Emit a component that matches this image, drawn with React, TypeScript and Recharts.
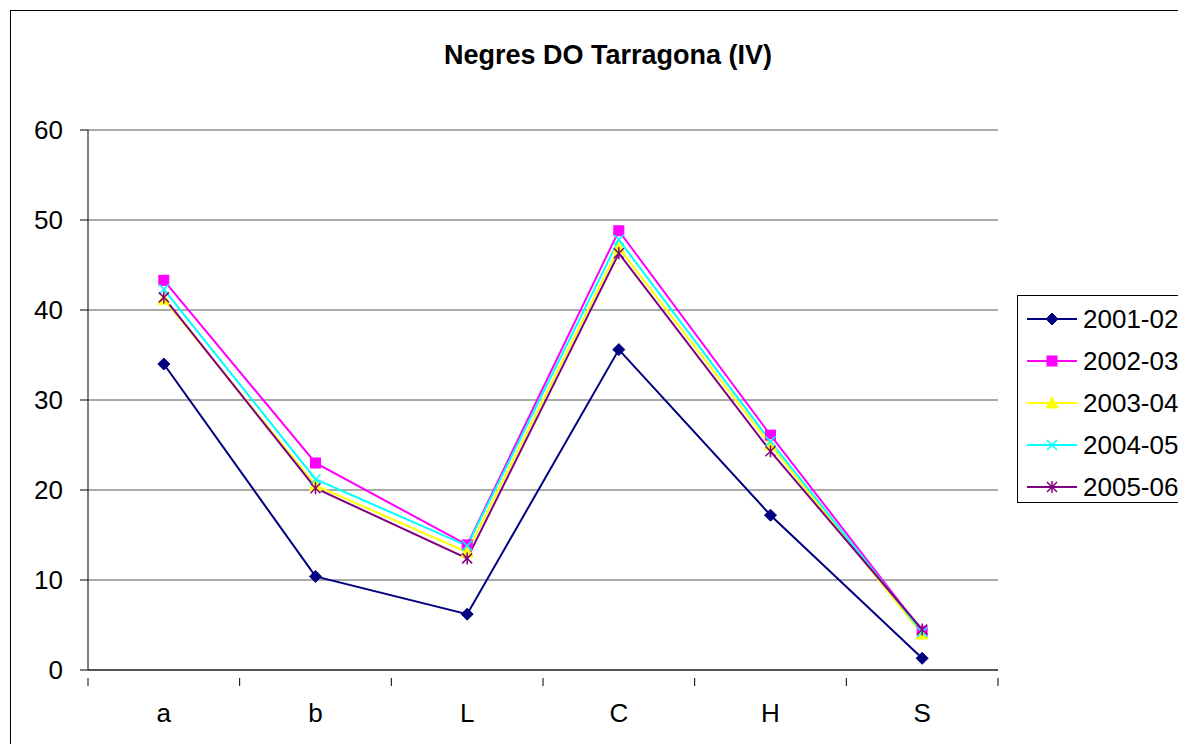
import React from 'react';
import { LineChart, Line, XAxis, YAxis, CartesianGrid } from 'recharts';

const categories = ['a', 'b', 'L', 'C', 'H', 'S'];
const yTicks = [0, 10, 20, 30, 40, 50, 60];

const s2001 = [34.0, 10.4, 6.2, 35.6, 17.2, 1.3];
const s2002 = [43.3, 23.0, 13.9, 48.8, 26.1, 4.3];
const s2003 = [41.2, 20.5, 13.1, 46.9, 25.0, 4.0];
const s2004 = [42.3, 21.2, 13.8, 47.8, 25.4, 4.2];
const s2005 = [41.4, 20.2, 12.4, 46.3, 24.3, 4.5];

const seriesList = [
  { key: 's2001', name: '2001-02', color: '#000080', marker: 'diamond', values: s2001 },
  { key: 's2002', name: '2002-03', color: '#FF00FF', marker: 'square', values: s2002 },
  { key: 's2003', name: '2003-04', color: '#FFFF00', marker: 'triangle', values: s2003 },
  { key: 's2004', name: '2004-05', color: '#00FFFF', marker: 'x', values: s2004 },
  { key: 's2005', name: '2005-06', color: '#800080', marker: 'star', values: s2005 },
];

const data = categories.map((c, i) => {
  const row: any = { cat: c };
  seriesList.forEach((s) => (row[s.key] = s.values[i]));
  return row;
});

const FONT = 'Arial, "Liberation Sans", sans-serif';
const PLOT_W = 910;
const HALF = PLOT_W / 12;

const Marker = ({ type, color, cx, cy }: any) => {
  if (cx == null || cy == null) return null;
  switch (type) {
    case 'diamond':
      return <polygon points={`${cx},${cy - 6} ${cx + 6},${cy} ${cx},${cy + 6} ${cx - 6},${cy}`} fill={color} stroke={color} />;
    case 'square':
      return <rect x={cx - 5} y={cy - 5} width={10} height={10} fill={color} stroke={color} />;
    case 'triangle':
      return <polygon points={`${cx},${cy - 6} ${cx + 6},${cy + 5} ${cx - 6},${cy + 5}`} fill={color} stroke={color} />;
    case 'x':
      return (
        <g stroke={color} strokeWidth={1.5}>
          <line x1={cx - 5} y1={cy - 5} x2={cx + 5} y2={cy + 5} />
          <line x1={cx - 5} y1={cy + 5} x2={cx + 5} y2={cy - 5} />
        </g>
      );
    default:
      return (
        <g stroke={color} strokeWidth={1.5}>
          <line x1={cx - 5} y1={cy - 5} x2={cx + 5} y2={cy + 5} />
          <line x1={cx - 5} y1={cy + 5} x2={cx + 5} y2={cy - 5} />
          <line x1={cx} y1={cy - 6} x2={cx} y2={cy + 6} />
        </g>
      );
  }
};

const XTick = ({ x, y, payload, index }: any) => (
  <g>
    <line x1={x - HALF} y1={y} x2={x - HALF} y2={y + 8} stroke="#000" />
    {index === categories.length - 1 && <line x1={x + HALF} y1={y} x2={x + HALF} y2={y + 8} stroke="#000" />}
    <text x={x} y={y + 35} textAnchor="middle" dominantBaseline="central" fontSize={26} fontFamily={FONT} fill="#000">
      {payload.value}
    </text>
  </g>
);

const LegendBox = () => (
  <div
    style={{
      position: 'absolute', left: 1006, top: 284, width: 180, height: 208,
      border: '1px solid #000', background: '#fff', boxSizing: 'border-box',
    }}
  >
    <svg width={180} height={206} style={{ display: 'block' }}>
      {seriesList.map((s, i) => {
        const cy = 23 + i * 42;
        return (
          <g key={s.key}>
            <line x1={9} y1={cy} x2={59} y2={cy} stroke={s.color} strokeWidth={2} />
            <Marker type={s.marker} color={s.color} cx={34} cy={cy} />
            <text x={65} y={cy} dominantBaseline="central" fontSize={26} fontFamily={FONT} fill="#000">
              {s.name}
            </text>
          </g>
        );
      })}
    </svg>
  </div>
);

export default function App() {
  return (
    <div style={{ padding: '2px 0 0 2px' }}>
      <div style={{ position: 'relative', width: 1200, height: 760, border: '1px solid #000', background: '#fff' }}>
        <div
          style={{
            position: 'absolute', left: 0, top: 29, width: 1194, textAlign: 'center',
            fontFamily: FONT, fontWeight: 'bold', fontSize: 27, lineHeight: '30px', color: '#000',
          }}
        >
          Negres DO Tarragona (IV)
        </div>
        <LineChart width={1180} height={740} data={data} margin={{ top: 119, right: 193, bottom: 0, left: 0 }}>
          <CartesianGrid vertical={false} stroke="#555" />
          <XAxis
            dataKey="cat"
            padding={{ left: HALF, right: HALF }}
            axisLine={{ stroke: '#000' }}
            tickLine={false}
            tick={<XTick />}
            interval={0}
            height={81}
          />
          <YAxis
            domain={[0, 60]}
            ticks={yTicks}
            width={77}
            tickSize={8}
            tickMargin={17}
            axisLine={{ stroke: '#000' }}
            tickLine={{ stroke: '#000' }}
            tick={{ fill: '#000', fontSize: 26, fontFamily: FONT }}
          />
          {seriesList.map((s) => (
            <Line
              key={s.key}
              dataKey={s.key}
              name={s.name}
              stroke={s.color}
              strokeWidth={2}
              type="linear"
              isAnimationActive={false}
              dot={(p: any) => <Marker key={`${s.key}-${p.index}`} type={s.marker} color={s.color} cx={p.cx} cy={p.cy} />}
              activeDot={false}
            />
          ))}
        </LineChart>
        <LegendBox />
      </div>
    </div>
  );
}
